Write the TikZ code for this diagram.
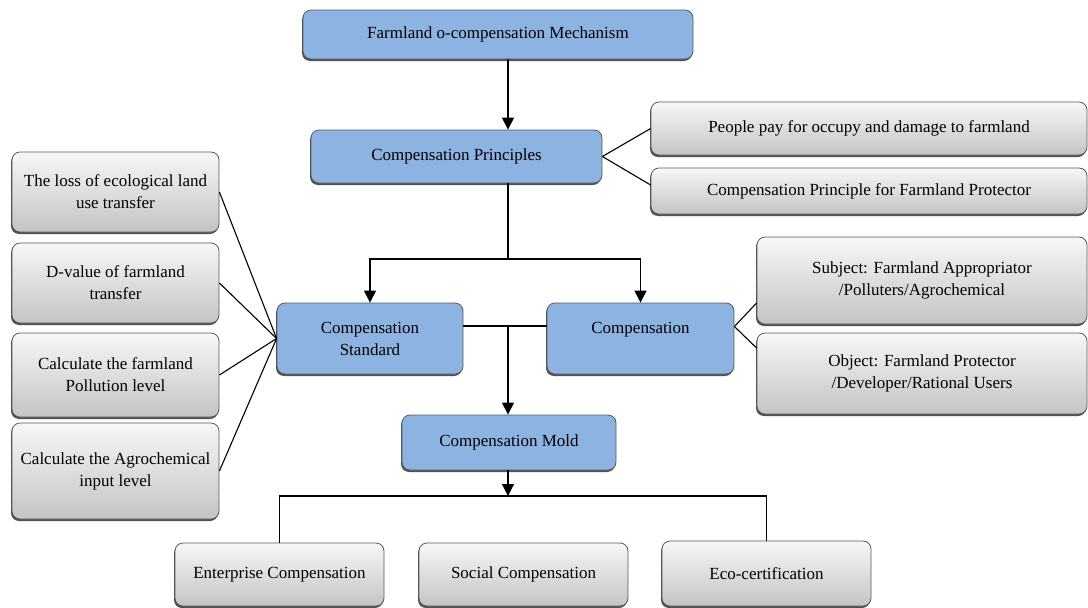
\documentclass[tikz,border=0pt]{standalone}
\usepackage{fontspec}
\setmainfont{Liberation Serif}
\usetikzlibrary{arrows.meta,shadows}
\definecolor{boxblue}{RGB}{141,179,226}
\definecolor{boxtop}{RGB}{247,247,247}
\definecolor{boxbot}{RGB}{196,196,196}

\begin{document}
\begin{tikzpicture}
	[x=1pt, y=-1pt, line width=1.1pt, >={Triangle[width=12pt,length=12pt]},
	 box/.style={draw=black!65, line width=0.8pt, rounded corners=8pt, align=center,
		inner sep=0pt, font=\fontsize{17}{22}\selectfont,
		drop shadow={shadow xshift=-1pt, shadow yshift=-2pt, opacity=0.85, fill=black!80}},
	 mainbox/.style={box, fill=boxblue},
	 subbox/.style={box, top color=boxtop, bottom color=boxbot}]
	\useasboundingbox (0,0) rectangle (1088,608);
	\clip (0,0) rectangle (1088,608);
	% main line
	\node[mainbox, minimum width=390pt, minimum height=49pt] (mech) at (498,34.5) {Farmland o-compensation Mechanism};
	\node[mainbox, minimum width=291pt, minimum height=53pt] (prin) at (456.5,156.5) {Compensation Principles};
	\node[mainbox, minimum width=186pt, minimum height=71pt] (std) at (370,338.5) {Compensation\\Standard};
	\node[mainbox, minimum width=187pt, minimum height=71pt] (comp) at (640.5,338.5) {Compensation\\\mbox{}};
	\node[mainbox, minimum width=214pt, minimum height=55pt] (mold) at (509,442.5) {Compensation Mold};
	% principles
	\node[subbox, minimum width=436pt, minimum height=53pt] (pay) at (869,128.5) {People pay for occupy and damage to farmland};
	\node[subbox, minimum width=436pt, minimum height=46pt] (prot) at (869,191) {Compensation Principle for Farmland Protector};
	% standard
	\node[subbox, minimum width=207pt, minimum height=80pt] (loss) at (115.5,192) {The loss of ecological land\\use transfer};
	\node[subbox, minimum width=207pt, minimum height=80pt] (dval) at (115.5,283) {D-value of farmland\\transfer};
	\node[subbox, minimum width=207pt, minimum height=84pt] (poll) at (115.5,375) {Calculate the farmland\\Pollution level};
	\node[subbox, minimum width=207pt, minimum height=96pt] (agro) at (115.5,471) {Calculate the Agrochemical\\input level};
	% compensation
	\node[subbox, minimum width=330pt, minimum height=87pt] (subj) at (922,280.5) {Subject: Farmland Appropriator\\/Polluters/Agrochemical};
	\node[subbox, minimum width=330pt, minimum height=81pt] (obj) at (922,373.5) {Object: Farmland Protector\\/Developer/Rational Users};
	% mold
	\node[subbox, minimum width=209pt, minimum height=63pt] (ent) at (279.5,574.5) {Enterprise Compensation};
	\node[subbox, minimum width=209pt, minimum height=63pt] (soc) at (523.5,574.5) {Social Compensation};
	\node[subbox, minimum width=209pt, minimum height=65pt] (eco) at (766.5,573.5) {Eco-certification};
	\coordinate (j1) at (508,259);
	\coordinate (j2) at (508,326);
	\coordinate (j3) at (508,496);
	\draw[->] (mech.south -| j1) -- (prin.north -| j1);
	\draw (prin.south -| j1) -- (j1);
	\draw[->] (j1) -| (std.north);
	\draw[->] (j1) -| (comp.north);
	\draw (prin.east) -- (pay.west);
	\draw (prin.east) -- ([yshift=6pt]prot.west);
	\draw (loss.east) -- (std.west);
	\draw (dval.east) -- (std.west);
	\draw (poll.east) -- (std.west);
	\draw (agro.east) -- (std.west);
	\draw (std.east |- j2) -- (comp.west |- j2);
	\draw[->] (j2) -- (mold.north -| j2);
	\draw ([yshift=12pt]comp.east) -- ([yshift=-22.5pt]subj.west);
	\draw ([yshift=12pt]comp.east) -- ([yshift=25.5pt]obj.west);
	\draw[->] (mold.south -| j3) -- (j3);
	\draw (ent.north) |- (j3) -| (eco.north);
\end{tikzpicture}
\end{document}
